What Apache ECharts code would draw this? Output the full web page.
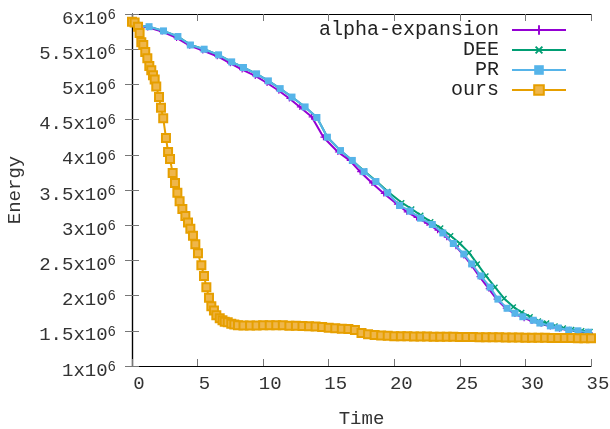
<!DOCTYPE html>
<html>
<head>
<meta charset="utf-8">
<script src="https://cdn.jsdelivr.net/npm/echarts@6/dist/echarts.min.js"></script>
<style>
  html, body { margin: 0; padding: 0; background: #fff; }
  #chart { width: 610px; height: 429px; }
</style>
</head>
<body>
<div id="chart"></div>
<script>
// energies are in units of 1e6
var energyUnit = 1e6;
var xTicks = [0, 35, 5];          // min, max, step
var yTicks = [1, 6, 0.5];         // min, max, step (x1e6)

var alphaTime = [0.3, 1.2, 2.3, 3.4, 4.4, 5.4, 6.5, 7.5, 8.4, 9.4, 10.3, 11.2, 12.0, 12.8, 13.7, 14.6, 15.7, 16.6, 17.4, 18.3, 19.2, 20.2, 20.95, 21.7, 22.5, 23.3, 24.0, 24.7, 25.3, 25.9, 26.5, 27.2, 27.8, 28.5, 29.2, 29.9, 30.5, 31.2, 31.9, 32.6, 33.3, 34.1, 34.9];
var alphaEnergy = [5.84, 5.81, 5.75, 5.66, 5.55, 5.48, 5.40, 5.30, 5.21, 5.12, 5.02, 4.91, 4.80, 4.68, 4.54, 4.25, 4.04, 3.92, 3.76, 3.60, 3.45, 3.30, 3.19, 3.11, 3.03, 2.93, 2.83, 2.70, 2.57, 2.43, 2.27, 2.10, 1.95, 1.82, 1.74, 1.68, 1.64, 1.60, 1.56, 1.53, 1.51, 1.49, 1.47];

var deeTime = [0.4, 1.3, 2.4, 3.5, 4.5, 5.5, 6.6, 7.6, 8.5, 9.5, 10.4, 11.3, 12.2, 13.2, 14.1, 14.9, 15.9, 16.8, 17.7, 18.6, 19.5, 20.57, 21.33, 22.02, 22.78, 23.54, 24.3, 25.0, 25.7, 26.33, 26.99, 27.68, 28.37, 29.08, 29.72, 30.36, 30.99, 31.62, 32.26, 32.89, 33.53, 34.29, 34.93];
var deeEnergy = [5.84, 5.82, 5.76, 5.68, 5.56, 5.50, 5.42, 5.32, 5.24, 5.15, 5.05, 4.94, 4.82, 4.68, 4.53, 4.25, 4.06, 3.92, 3.77, 3.63, 3.48, 3.32, 3.23, 3.14, 3.05, 2.96, 2.85, 2.74, 2.61, 2.45, 2.28, 2.12, 1.96, 1.84, 1.76, 1.70, 1.64, 1.61, 1.57, 1.54, 1.52, 1.50, 1.49];

var prTime = [0.4, 1.3, 2.4, 3.5, 4.45, 5.5, 6.6, 7.6, 8.5, 9.5, 10.4, 11.3, 12.2, 13.2, 14.1, 14.9, 15.9, 16.8, 17.7, 18.6, 19.5, 20.4, 21.2, 22.0, 22.9, 23.7, 24.5, 25.3, 25.9, 26.6, 27.3, 27.9, 28.6, 29.2, 29.8, 30.6, 31.1, 31.9, 32.5, 33.3, 34.0, 34.8];
var prEnergy = [5.84, 5.82, 5.76, 5.68, 5.56, 5.50, 5.42, 5.32, 5.24, 5.15, 5.05, 4.94, 4.82, 4.68, 4.53, 4.25, 4.06, 3.92, 3.76, 3.62, 3.46, 3.28, 3.20, 3.10, 3.01, 2.89, 2.74, 2.59, 2.45, 2.28, 2.12, 1.95, 1.82, 1.75, 1.70, 1.65, 1.61, 1.57, 1.54, 1.51, 1.50, 1.48];

var oursTime = [0.0, 0.2, 0.46, 0.58, 0.71, 0.86, 1.01, 1.17, 1.32, 1.47, 1.6, 1.73, 1.85, 2.06, 2.21, 2.38, 2.59, 2.75, 2.9, 3.1, 3.28, 3.46, 3.63, 3.84, 4.07, 4.27, 4.45, 4.65, 4.83, 5.03, 5.29, 5.49, 5.67, 5.87, 6.05, 6.25, 6.43, 6.69, 6.9, 7.07, 7.3, 7.57, 7.8, 8.08, 8.5, 9, 9.5, 10, 10.5, 11, 11.5, 12, 12.5, 13, 13.5, 14, 14.5, 15, 15.5, 16, 16.5, 17, 17.5, 18, 18.5, 19, 19.5, 20, 20.5, 21, 21.5, 22, 22.5, 23, 23.5, 24, 24.5, 25, 25.5, 26, 26.5, 27, 27.5, 28, 28.5, 29, 29.5, 30, 30.5, 31, 31.5, 32, 32.5, 33, 33.5, 34, 34.5, 35];
var oursEnergy = [5.89, 5.88, 5.82, 5.73, 5.60, 5.56, 5.46, 5.37, 5.26, 5.20, 5.13, 5.07, 4.97, 4.82, 4.67, 4.52, 4.24, 4.04, 3.94, 3.74, 3.60, 3.46, 3.34, 3.23, 3.13, 3.04, 2.95, 2.85, 2.73, 2.60, 2.43, 2.28, 2.12, 1.97, 1.85, 1.79, 1.72, 1.68, 1.65, 1.63, 1.62, 1.60, 1.59, 1.58, 1.575, 1.575, 1.575, 1.578, 1.578, 1.578, 1.578, 1.572, 1.57, 1.568, 1.566, 1.562, 1.555, 1.545, 1.535, 1.53, 1.525, 1.51, 1.47, 1.45, 1.44, 1.432, 1.428, 1.424, 1.422, 1.421, 1.42, 1.419, 1.418, 1.417, 1.416, 1.415, 1.414, 1.413, 1.412, 1.411, 1.41, 1.409, 1.408, 1.407, 1.406, 1.405, 1.404, 1.403, 1.402, 1.401, 1.40, 1.399, 1.398, 1.397, 1.396, 1.395, 1.394, 1.393];

var font = 'Liberation Mono';
var textColor = '#333';

function pairs(ts, es) {
  return ts.map(function (t, i) { return [t, es[i] * energyUnit]; });
}

var plusPath = 'path://M0,3.2H8V4.8H0Z M3.2,0H4.8V8H3.2Z';

var seriesDefs = [
  { name: 'alpha-expansion', color: '#9400d3', symbol: plusPath, size: 6, rotate: 0, data: pairs(alphaTime, alphaEnergy) },
  { name: 'DEE', color: '#009e73', symbol: plusPath, size: 7, rotate: 45, data: pairs(deeTime, deeEnergy) },
  { name: 'PR', color: '#56b4e9', symbol: 'rect', size: 7, rotate: 0, data: pairs(prTime, prEnergy) },
  { name: 'ours', color: '#e69f00', symbol: 'rect', size: 8, rotate: 0, data: pairs(oursTime, oursEnergy) }
];

var series = seriesDefs.map(function (d, i) {
  var s = {
    name: d.name,
    type: 'line',
    data: d.data,
    symbol: d.symbol,
    symbolSize: d.size,
    symbolRotate: d.rotate,
    showSymbol: true,
    z: 2 + i,
    lineStyle: { color: d.color, width: 2 },
    itemStyle: { color: d.color }
  };
  if (d.name === 'ours') {
    s.itemStyle = { color: '#efb64a', borderColor: '#e69f00', borderWidth: 2 };
  }
  return s;
});

var legendRows = [20, 40, 60, 80];
var legends = seriesDefs.map(function (d, i) {
  return {
    data: [d.name],
    right: 43,
    top: legendRows[i],
    padding: 0,
    align: 'right',
    itemWidth: 54,
    itemHeight: 12,
    selectedMode: false,
    textStyle: { fontFamily: font, fontSize: 20, color: '#222', padding: [0, 8, 0, 0] }
  };
});

var tickStyle = { show: true, inside: true, length: 7, lineStyle: { color: '#777', width: 1 } };
var lineStyle = { show: true, lineStyle: { color: '#000', width: 1.2 } };

var option = {
  animation: false,
  backgroundColor: '#fff',
  grid: { left: 132, right: 19, top: 14, bottom: 63, outerBoundsMode: 'none' },
  legend: legends,
  xAxis: [{
    type: 'value',
    min: xTicks[0], max: xTicks[1], interval: xTicks[2],
    name: 'Time',
    nameLocation: 'middle',
    nameGap: 43,
    nameTextStyle: { fontFamily: font, fontSize: 19, color: textColor },
    axisLine: lineStyle,
    axisTick: tickStyle,
    splitLine: { show: false },
    axisLabel: { fontFamily: font, fontSize: 19, color: textColor, margin: 8, padding: [0, 0, 0, 14] }
  }, {
    type: 'value', position: 'top',
    min: xTicks[0], max: xTicks[1], interval: xTicks[2],
    axisLine: lineStyle, axisTick: tickStyle, axisLabel: { show: false }, splitLine: { show: false }
  }],
  yAxis: [{
    type: 'value',
    min: yTicks[0] * energyUnit, max: yTicks[1] * energyUnit, interval: yTicks[2] * energyUnit,
    name: 'Energy',
    nameLocation: 'middle',
    nameGap: 108,
    nameTextStyle: { fontFamily: font, fontSize: 19, color: textColor },
    axisLine: lineStyle,
    axisTick: tickStyle,
    splitLine: { show: false },
    axisLabel: {
      margin: 16,
      padding: [8, 0, 0, 0],
      formatter: function (v) { return '{m|' + (v / energyUnit) + 'x10}{s|6}'; },
      rich: {
        m: { fontFamily: font, fontSize: 19, color: textColor, lineHeight: 20, verticalAlign: 'bottom' },
        s: { fontFamily: font, fontSize: 14, color: textColor, lineHeight: 14, verticalAlign: 'top', padding: [0, 0, 12, 0] }
      }
    }
  }, {
    type: 'value', position: 'right',
    min: yTicks[0] * energyUnit, max: yTicks[1] * energyUnit, interval: yTicks[2] * energyUnit,
    axisLine: lineStyle, axisTick: tickStyle, axisLabel: { show: false }, splitLine: { show: false }
  }],
  series: series
};

var chart = echarts.init(document.getElementById('chart'));
chart.setOption(option);
</script>
</body>
</html>
